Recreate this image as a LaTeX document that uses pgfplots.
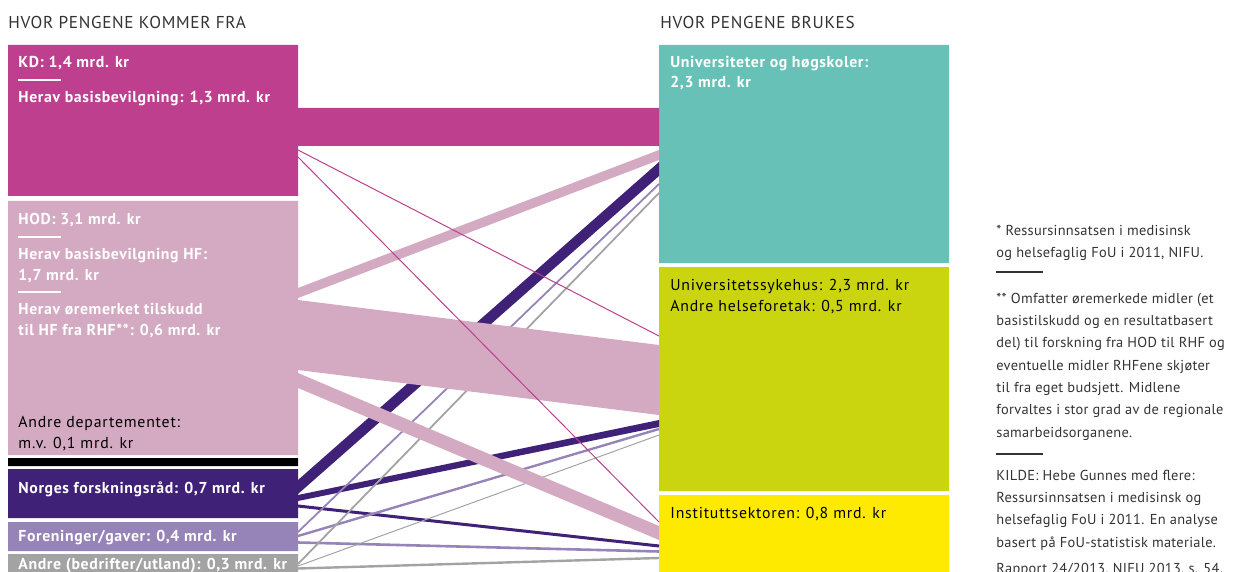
\documentclass[border=0pt]{standalone}
\usepackage{fontspec}
\setmainfont{PT Sans}
\newfontfamily\labfont[LetterSpace=4]{PT Sans}
\newfontfamily\dlabfont[LetterSpace=5]{PT Sans}
\newfontfamily\ttlfont[LetterSpace=4]{PT Sans}
\newfontfamily\notefont[LetterSpace=2]{PT Sans}
\usepackage{pgfplots}
\pgfplotsset{compat=1.18}
\definecolor{kd}{HTML}{BE3F8D}
\definecolor{hod}{HTML}{D4A9C2}
\definecolor{nfr}{HTML}{3F2178}
\definecolor{fore}{HTML}{9684B8}
\definecolor{andre}{HTML}{A3A3A3}
\definecolor{uni}{HTML}{67C1B7}
\definecolor{syk}{HTML}{CBD50F}
\definecolor{inst}{HTML}{FDEA00}
\definecolor{txt}{HTML}{333333}
\tikzset{
  lab/.style={anchor=base west, inner sep=0pt, font=\labfont\fontsize{7.9}{9}\selectfont\bfseries, text=white},
  dlab/.style={anchor=base west, inner sep=0pt, font=\dlabfont\fontsize{7.9}{9}\selectfont, text=black},
  note/.style={anchor=base west, inner sep=0pt, font=\notefont\fontsize{7.2}{9}\selectfont, text=txt},
  ttl/.style={anchor=base west, inner sep=0pt, font=\ttlfont\fontsize{8.6}{10}\selectfont, text=txt}}
\begin{document}
\begin{tikzpicture}
\useasboundingbox (0,0) rectangle (617.5pt,286pt);
\clip (0,0) rectangle (617.5pt,286pt);
\begin{axis}[at={(0,0)}, anchor=south west, width=617.5pt, height=286pt, scale only axis,
  xmin=0, xmax=1235, ymin=0, ymax=572, y dir=reverse, hide axis, clip=false]
% source boxes
\addplot[fill=kd, draw=none] coordinates {(8,45) (298,45) (298,196) (8,196) (8,45)};
\addplot[fill=hod, draw=none] coordinates {(8,201) (298,201) (298,455) (8,455) (8,201)};
\addplot[fill=black, draw=none] coordinates {(8,458) (298,458) (298,466) (8,466) (8,458)};
\addplot[fill=nfr, draw=none] coordinates {(8,469) (298,469) (298,518) (8,518) (8,469)};
\addplot[fill=fore, draw=none] coordinates {(8,522) (298,522) (298,551) (8,551) (8,522)};
\addplot[fill=andre, draw=none] coordinates {(8,554) (298,554) (298,580) (8,580) (8,554)};
% target boxes
\addplot[fill=uni, draw=none] coordinates {(659,45) (949,45) (949,263) (659,263) (659,45)};
\addplot[fill=syk, draw=none] coordinates {(659,267) (949,267) (949,491) (659,491) (659,267)};
\addplot[fill=inst, draw=none] coordinates {(659,495) (949,495) (949,580) (659,580) (659,495)};
% flows: NFR, foreninger, andre
\addplot[fill=nfr, draw=none] coordinates {(298,480) (659,162) (659,176) (298,494) (298,480)};
\addplot[fill=nfr, draw=none] coordinates {(298,495) (659,420) (659,427) (298,501) (298,495)};
\addplot[nfr, line width=1.5pt] coordinates {(298,506) (659,546)};
\addplot[fore, line width=0.9pt] coordinates {(298,532) (659,184)};
\addplot[fore, line width=1.2pt] coordinates {(298,536) (659,429)};
\addplot[fore, line width=1.3pt] coordinates {(298,542.5) (659,551.5)};
\addplot[andre, line width=0.9pt] coordinates {(298,564) (659,193)};
\addplot[andre, line width=0.5pt] coordinates {(298,566) (659,435)};
\addplot[andre, line width=1.2pt] coordinates {(298,568.5) (659,558)};
% HOD flows
\addplot[fill=hod, draw=none] coordinates {(298,288) (659,150) (659,160) (298,298) (298,288)};
\addplot[fill=hod, draw=none] coordinates {(298,300) (659,345) (659,415) (298,370) (298,300)};
\addplot[fill=hod, draw=none] coordinates {(298,373) (659,526) (659,540) (298,388) (298,373)};
% KD flows
\addplot[fill=kd, draw=none] coordinates {(298,108) (659,108) (659,146) (298,146) (298,108)};
\addplot[kd, line width=0.5pt] coordinates {(298,150) (659,336)};
\addplot[kd, line width=0.5pt] coordinates {(298,157) (659,522)};
% white separators
\addplot[white, line width=0.7pt] coordinates {(18,80) (61,80)};
\addplot[white, line width=0.7pt] coordinates {(18,237) (61,237)};
\addplot[white, line width=0.7pt] coordinates {(18,292) (61,292)};
% note separators
\addplot[txt, line width=0.6pt] coordinates {(996,272) (1043,272)};
\addplot[txt, line width=0.6pt] coordinates {(996,454) (1043,454)};
% titles
\node[ttl] at (axis cs:8,29) {HVOR PENGENE KOMMER FRA};
\node[ttl] at (axis cs:660,29) {HVOR PENGENE BRUKES};
% left labels
\node[lab] at (axis cs:18,68) {KD: 1,4 mrd. kr};
\node[lab] at (axis cs:18,103) {Herav basisbevilgning: 1,3 mrd. kr};
\node[lab] at (axis cs:18,225) {HOD: 3,1 mrd. kr};
\node[lab] at (axis cs:18,259) {Herav basisbevilgning HF:};
\node[lab] at (axis cs:18,280) {1,7 mrd. kr};
\node[lab] at (axis cs:18,314) {Herav øremerket tilskudd};
\node[lab] at (axis cs:18,335) {til HF fra RHF**: 0,6 mrd. kr};
\node[dlab] at (axis cs:18,427) {Andre departementet:};
\node[dlab] at (axis cs:18,448) {m.v. 0,1 mrd. kr};
\node[lab] at (axis cs:18,493) {Norges forskningsråd: 0,7 mrd. kr};
\node[lab] at (axis cs:18,541) {Foreninger/gaver: 0,4 mrd. kr};
\node[lab] at (axis cs:18,569) {Andre (bedrifter/utland): 0,3 mrd. kr};
% right labels
\node[lab] at (axis cs:670,68) {Universiteter og høgskoler:};
\node[lab] at (axis cs:670,88) {2,3 mrd. kr};
\node[dlab] at (axis cs:670,290) {Universitetssykehus: 2,3 mrd. kr};
\node[dlab] at (axis cs:670,311) {Andre helseforetak: 0,5 mrd. kr};
\node[dlab] at (axis cs:670,518) {Instituttsektoren: 0,8 mrd. kr};
% notes
\node[note] at (axis cs:996,235) {* Ressursinnsatsen i medisinsk};
\node[note] at (axis cs:996,257) {og helsefaglig FoU i 2011, NIFU.};
\node[note] at (axis cs:996,303) {** Omfatter øremerkede midler (et};
\node[note] at (axis cs:996,325) {basistilskudd og en resultatbasert};
\node[note] at (axis cs:996,347) {del) til forskning fra HOD til RHF og};
\node[note] at (axis cs:996,370) {eventuelle midler RHFene skjøter};
\node[note] at (axis cs:996,392) {til fra eget budsjett. Midlene};
\node[note] at (axis cs:996,414) {forvaltes i stor grad av de regionale};
\node[note] at (axis cs:996,437) {samarbeidsorganene.};
\node[note] at (axis cs:996,480) {KILDE: Hebe Gunnes med flere:};
\node[note] at (axis cs:996,502) {Ressursinnsatsen i medisinsk og};
\node[note] at (axis cs:996,524) {helsefaglig FoU i 2011. En analyse};
\node[note] at (axis cs:996,547) {basert på FoU-statistisk materiale.};
\node[note] at (axis cs:996,573) {Rapport 24/2013, NIFU 2013, s. 54.};
\end{axis}
\end{tikzpicture}
\end{document}
